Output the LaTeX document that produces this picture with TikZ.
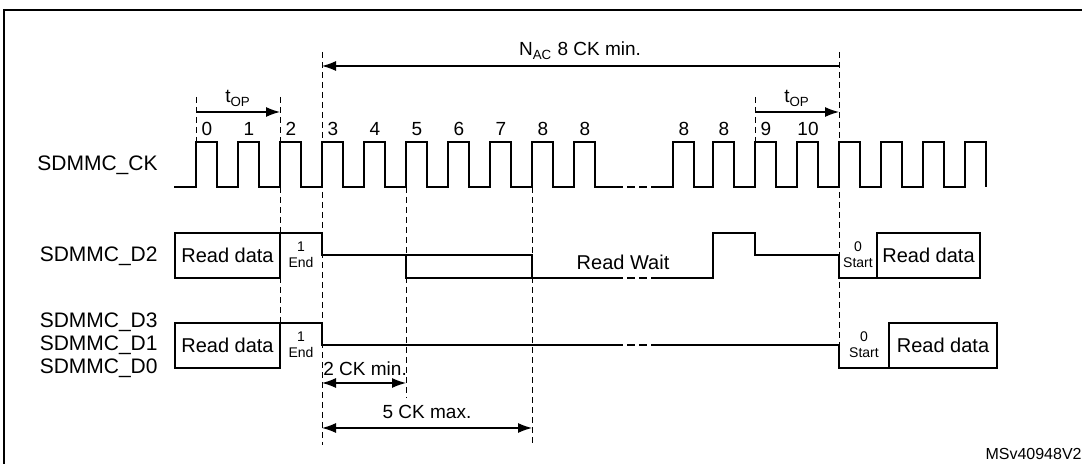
\documentclass[tikz,border=0pt]{standalone}
\usepackage{fontspec}
\setmainfont{Liberation Sans}
\usetikzlibrary{arrows.meta}
\begin{document}
\begin{tikzpicture}[x=0.5pt,y=-0.5pt,
  sig/.style={line width=1.4pt,line join=miter},
  dsh/.style={dashed,line width=0.5pt,dash pattern=on 3pt off 2pt},
  dim/.style={line width=0.6pt,-{Latex[length=7pt,width=5pt]}},
  ddim/.style={line width=0.6pt,{Latex[length=7pt,width=5pt]}-{Latex[length=7pt,width=5pt]}},
  lbl/.style={font=\fontsize{10.5}{12}\selectfont,inner sep=0pt},
  num/.style={font=\fontsize{9.5}{11}\selectfont,inner sep=0pt},
  sm/.style={font=\fontsize{7}{8}\selectfont,inner sep=0pt,align=center},
  box/.style={draw,line width=1.4pt,minimum height=22.5pt,inner sep=0pt,font=\fontsize{10}{12}\selectfont}]
\useasboundingbox (0,0) rectangle (1082,464);
% frame
\draw[line width=1.2pt] (4,464) -- (4,10) -- (1082,10);
% clock
\draw[sig] (174,187)
  \foreach \x in {196,238,280,322,364,406,448,490,532,574}{ -- (\x,187) -- (\x,142) -- (\x+21,142) -- (\x+21,187)} -- (615,187);
\draw[sig,dash pattern=on 4pt off 2pt] (615,187) -- (652,187);
\draw[sig] (652,187)
  \foreach \x in {673,713,755,797,839,881,923,965}{ -- (\x,187) -- (\x,142) -- (\x+21,142) -- (\x+21,187)};
\foreach \x/\t in {196/0,238/1,280/2,322/3,364/4,406/5,448/6,490/7,532/8,574/8,673/8,713/8,755/9}
  \node[num,anchor=base] at (\x+11,136) {\t};
\node[num,anchor=base] at (808,136) {10};
% dashed guides
\coordinate (g1t) at (196,97); \coordinate (g1b) at (196,142);
\draw[dsh] (g1t) -- (g1b);
\coordinate (g2t) at (280,97); \coordinate (g2b) at (280,322);
\draw[dsh] (g2t) -- (g2b);
\coordinate (g3t) at (322,52); \coordinate (g3b) at (322,445);
\draw[dsh] (g3t) -- (g3b);
\coordinate (g4t) at (406,187); \coordinate (g4b) at (406,398);
\draw[dsh] (g4t) -- (g4b);
\coordinate (g5t) at (532,187); \coordinate (g5b) at (532,445);
\draw[dsh] (g5t) -- (g5b);
\coordinate (g6t) at (839,52); \coordinate (g6b) at (839,345);
\draw[dsh] (g6t) -- (g6b);
\coordinate (g7t) at (755,97); \coordinate (g7b) at (755,142);
\draw[dsh] (g7t) -- (g7b);
% dimension arrows
\coordinate (nA) at (322,66); \coordinate (nB) at (839,66);
\draw[dim] (nB) -- (nA);
\node[lbl,anchor=base,font=\fontsize{9.5}{11}\selectfont] at (580,56) {N\textsubscript{AC} 8 CK min.};
\coordinate (t1a) at (196,112); \coordinate (t1b) at (280,112);
\draw[dim] (t1a) -- (t1b);
\node[num,anchor=base] at (238,103) {t\textsubscript{OP}};
\coordinate (t2a) at (755,112); \coordinate (t2b) at (839,112);
\draw[dim] (t2a) -- (t2b);
\node[num,anchor=base] at (797,103) {t\textsubscript{OP}};
\coordinate (c2a) at (322,383); \coordinate (c2b) at (406,383);
\draw[ddim] (c2a) -- (c2b);
\node[num,anchor=base west] at (323,376) {2 CK min.};
\coordinate (c5a) at (322,428); \coordinate (c5b) at (532,428);
\draw[ddim] (c5a) -- (c5b);
\node[num,anchor=base] at (427,419) {5 CK max.};
% signal names
\node[lbl,anchor=east] at (158,165) {SDMMC\_CK};
\node[lbl,anchor=east] at (158,256) {SDMMC\_D2};
\node[lbl,anchor=east] at (158,322) {SDMMC\_D3};
\node[lbl,anchor=east] at (158,345) {SDMMC\_D1};
\node[lbl,anchor=east] at (158,368) {SDMMC\_D0};
% D2
\node[box,minimum width=52.5pt] (rd1) at (227.5,255.5) {Read data};
\draw[sig] (280,233) -- (322,233) -- (322,255) -- (532,255) -- (532,278);
\draw[sig] (406,255) -- (406,278) -- (615,278);
\draw[sig,dash pattern=on 4pt off 2pt] (615,278) -- (652,278);
\draw[sig] (652,278) -- (713,278) -- (713,233) -- (755,233) -- (755,255) -- (839,255) -- (839,278) -- (877,278);
\node[box,minimum width=51.5pt] (rd2) at (928.5,255.5) {Read data};
\node[sm] at (301,255) {1\\End};
\node[sm] at (858,255) {0\\Start};
\node[num,font=\fontsize{10}{12}\selectfont,anchor=center] at (623,262) {Read Wait};
% D3/D1/D0
\node[box,minimum width=52.5pt] (rd3) at (227.5,345.5) {Read data};
\draw[sig] (280,323) -- (322,323) -- (322,345) -- (615,345);
\draw[sig,dash pattern=on 4pt off 2pt] (615,345) -- (652,345);
\draw[sig] (652,345) -- (839,345) -- (839,368) -- (889,368);
\node[box,minimum width=54pt] (rd4) at (943,345.5) {Read data};
\node[sm] at (301,345) {1\\End};
\node[sm] at (864,345) {0\\Start};
\node[font=\fontsize{8}{9}\selectfont,anchor=base east,inner sep=0pt] at (1082,460) {MSv40948V2};
\end{tikzpicture}
\end{document}
